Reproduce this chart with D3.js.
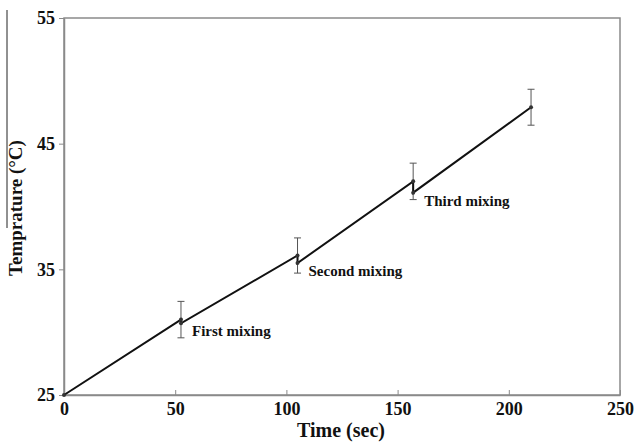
<!DOCTYPE html>
<html>
<head>
<meta charset="utf-8">
<script src="https://cdn.jsdelivr.net/npm/d3@7"></script>
<style>
  body { margin: 0; background: #fff; }
  svg { display: block; }
  text { font-family: "Liberation Serif", "Times New Roman", serif; font-weight: bold; fill: #111; }
</style>
</head>
<body>
<svg id="chart" width="635" height="443"></svg>
<script>
// ---- data ----
const lineTime = [0, 52.6, 52.6, 105, 105, 157, 157, 210];
const lineTemp = [25, 31.0, 30.7, 36.1, 35.5, 42.0, 41.1, 47.9];
const errTime = [52.6, 105, 157, 210];
const errMean = [31.0, 36.1, 42.0, 47.9];
const errSize = [1.45, 1.4, 1.45, 1.43];
const labelText = ["First mixing", "Second mixing", "Third mixing"];
const labelTime = [52.6, 105, 157];
const labelTemp = [30.7, 35.5, 41.1];
const xTicks = [0, 50, 100, 150, 200, 250];
const yTicks = [25, 35, 45, 55];

// ---- layout ----
const svg = d3.select("#chart");
const m = { left: 64, right: 620, top: 18, bottom: 395 };
const x = d3.scaleLinear().domain([0, 250]).range([m.left, m.right]);
const y = d3.scaleLinear().domain([25, 55]).range([m.bottom, m.top]);

// frame
svg.append("rect")
  .attr("x", m.left).attr("y", m.top)
  .attr("width", m.right - m.left).attr("height", m.bottom - m.top)
  .attr("fill", "none").attr("stroke", "#8a8a8a").attr("stroke-width", 1.5);

// x axis (ticks inward)
const xAxis = svg.append("g").attr("transform", `translate(0,${m.bottom})`)
  .call(d3.axisBottom(x).tickValues(xTicks).tickSizeInner(-5).tickSizeOuter(0).tickPadding(7));
xAxis.select(".domain").attr("stroke", "#8a8a8a").attr("stroke-width", 1.5);
xAxis.selectAll(".tick line").attr("stroke", "#8a8a8a");
xAxis.selectAll("text").attr("font-size", 18).attr("fill", "#111")
  .attr("font-family", "Liberation Serif").attr("font-weight", "bold").attr("dy", "0.71em");

// y axis (ticks outward)
const yAxis = svg.append("g").attr("transform", `translate(${m.left},0)`)
  .call(d3.axisLeft(y).tickValues(yTicks).tickSize(5).tickSizeOuter(0).tickPadding(4));
yAxis.select(".domain").attr("stroke", "#8a8a8a").attr("stroke-width", 1.5);
yAxis.selectAll(".tick line").attr("stroke", "#8a8a8a");
yAxis.selectAll("text").attr("font-size", 18).attr("fill", "#111")
  .attr("font-family", "Liberation Serif").attr("font-weight", "bold");

// axis titles
svg.append("text")
  .attr("x", (m.left + m.right) / 2 - 1).attr("y", 437)
  .attr("text-anchor", "middle").attr("font-size", 20)
  .text("Time (sec)");

svg.append("text")
  .attr("transform", "translate(22,208) rotate(-90)")
  .attr("text-anchor", "middle").attr("font-size", 19)
  .text("Temprature (°C)");

// stray vertical rule at far left (as in reference)
svg.append("line")
  .attr("x1", 7).attr("x2", 7).attr("y1", 10).attr("y2", 228)
  .attr("stroke", "#222").attr("stroke-width", 1);

// error bars
const eb = svg.append("g").attr("stroke", "#555").attr("stroke-width", 1);
errTime.forEach((t, i) => {
  const cx = x(t), y1 = y(errMean[i] + errSize[i]), y2 = y(errMean[i] - errSize[i]);
  eb.append("line").attr("x1", cx).attr("x2", cx).attr("y1", y1).attr("y2", y2);
  eb.append("line").attr("x1", cx - 3.5).attr("x2", cx + 3.5).attr("y1", y1).attr("y2", y1);
  eb.append("line").attr("x1", cx - 3.5).attr("x2", cx + 3.5).attr("y1", y2).attr("y2", y2);
});

// line
const pts = lineTime.map((t, i) => [t, lineTemp[i]]);
svg.append("path")
  .datum(pts)
  .attr("fill", "none").attr("stroke", "#111").attr("stroke-width", 2)
  .attr("d", d3.line().x(d => x(d[0])).y(d => y(d[1])));

// markers
svg.append("g").selectAll("circle").data(pts).join("circle")
  .attr("cx", d => x(d[0])).attr("cy", d => y(d[1])).attr("r", 2)
  .attr("fill", "#333");

// annotations
labelText.forEach((s, i) => {
  svg.append("text")
    .attr("x", x(labelTime[i]) + 11)
    .attr("y", y(labelTemp[i]) + 13)
    .attr("font-size", 15)
    .text(s);
});
</script>
</body>
</html>
